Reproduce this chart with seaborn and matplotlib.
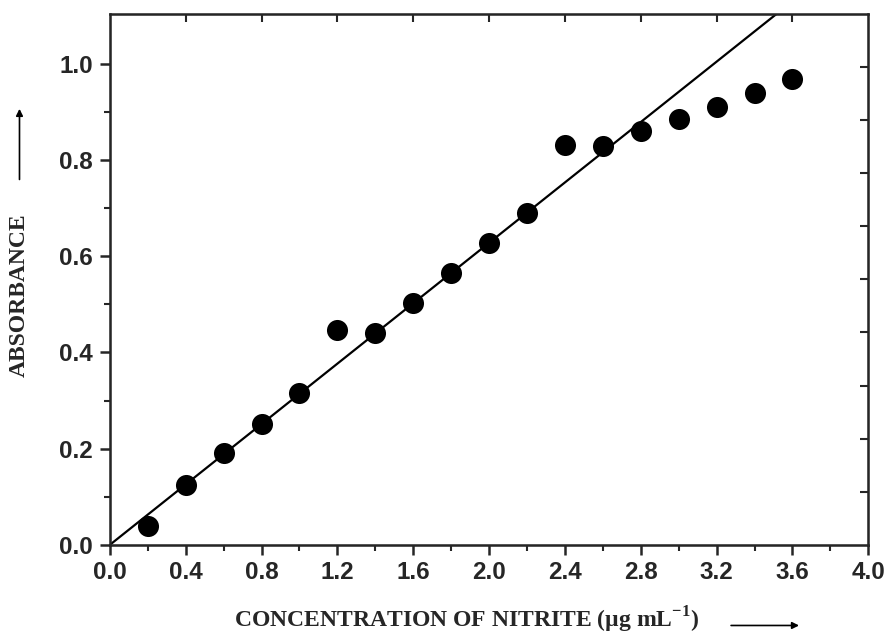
import matplotlib.pyplot as plt
import numpy as np
import pandas as pd
import seaborn as sns

# Absorbance readings against nitrite concentration
concentration = [0.2, 0.4, 0.6, 0.8, 1.0, 1.2, 1.4, 1.6, 1.8,
                 2.0, 2.2, 2.4, 2.6, 2.8, 3.0, 3.2, 3.4, 3.6]
absorbance = [0.040, 0.125, 0.190, 0.252, 0.315, 0.447, 0.440, 0.502, 0.566,
              0.628, 0.690, 0.832, 0.830, 0.860, 0.886, 0.911, 0.940, 0.968]

# calibration line end points
fit_x = [0.0, 4.0]
fit_y = [0.0, 1.256]

x_ticks = [0.0, 0.4, 0.8, 1.2, 1.6, 2.0, 2.4, 2.8, 3.2, 3.6, 4.0]
y_ticks = [0.0, 0.2, 0.4, 0.6, 0.8, 1.0]

df = pd.DataFrame({"conc": concentration, "abs": absorbance})
fit_df = pd.DataFrame({"conc": fit_x, "abs": fit_y})

sns.set_style("ticks")
plt.rcParams["font.family"] = ["Liberation Sans", "DejaVu Sans"]
plt.rcParams["mathtext.fontset"] = "custom"
plt.rcParams["mathtext.rm"] = "Liberation Serif:bold"
plt.rcParams["mathtext.bf"] = "Liberation Serif:bold"

fig = plt.figure(figsize=(8.86, 6.35), dpi=100)
ax = fig.add_axes([0.124, 0.142, 0.856, 0.836])

sns.lineplot(data=fit_df, x="conc", y="abs", ax=ax, color="black", linewidth=1.6)
sns.scatterplot(data=df, x="conc", y="abs", ax=ax, color="black", s=230,
                edgecolor="black", linewidth=0, zorder=3)

ax.set_xlim(0, 4.0)
ax.set_ylim(0, 1.104)
ax.set_xticks(x_ticks)
ax.set_yticks(y_ticks)
ax.set_xticks(np.arange(0.2, 4.0, 0.4), minor=True)
ax.set_yticks(np.arange(0.1, 1.1, 0.2), minor=True)
ax.set_xticklabels([f"{v:.1f}" for v in x_ticks], fontsize=17.5, fontweight="bold")
ax.set_yticklabels([f"{v:.1f}" for v in y_ticks], fontsize=17.5, fontweight="bold")
ax.tick_params(which="major", direction="out", length=7, width=1.8, pad=5)
ax.tick_params(which="minor", direction="out", length=4, width=1.5)
ax.set_xlabel("")
ax.set_ylabel("")
for s in ax.spines.values():
    s.set_linewidth(1.8)
    s.set_visible(True)

# top and right axes with inward ticks
top = ax.twiny()
top.set_xlim(0, 4.0)
top.set_xticks(x_ticks[1:-1])
top.set_xticklabels([])
top.tick_params(direction="in", length=6, width=1.5)

right = ax.twinx()
right.set_ylim(0, 1.0)
right.set_yticks(np.arange(0.1, 1.0, 0.1))
right.set_yticklabels([])
right.tick_params(direction="in", length=6, width=1.5)

serif = ["Liberation Serif", "DejaVu Serif"]
fig.text(0.527, 0.012, "CONCENTRATION OF NITRITE (\u00b5g mL$^{-1}$)",
         ha="center", va="baseline", fontsize=17, fontweight="bold", family=serif)
fig.text(0.022, 0.535, "ABSORBANCE", rotation=90, ha="center", va="center",
         fontsize=17, fontweight="bold", family=serif)

fig.patches.append(plt.matplotlib.patches.FancyArrowPatch(
    (0.822, 0.015), (0.905, 0.015), transform=fig.transFigure,
    arrowstyle="-|>", mutation_scale=10, color="black", lw=1.2))
fig.patches.append(plt.matplotlib.patches.FancyArrowPatch(
    (0.022, 0.713), (0.022, 0.833), transform=fig.transFigure,
    arrowstyle="-|>", mutation_scale=10, color="black", lw=1.2))

fig.savefig("out.png", dpi=100)
